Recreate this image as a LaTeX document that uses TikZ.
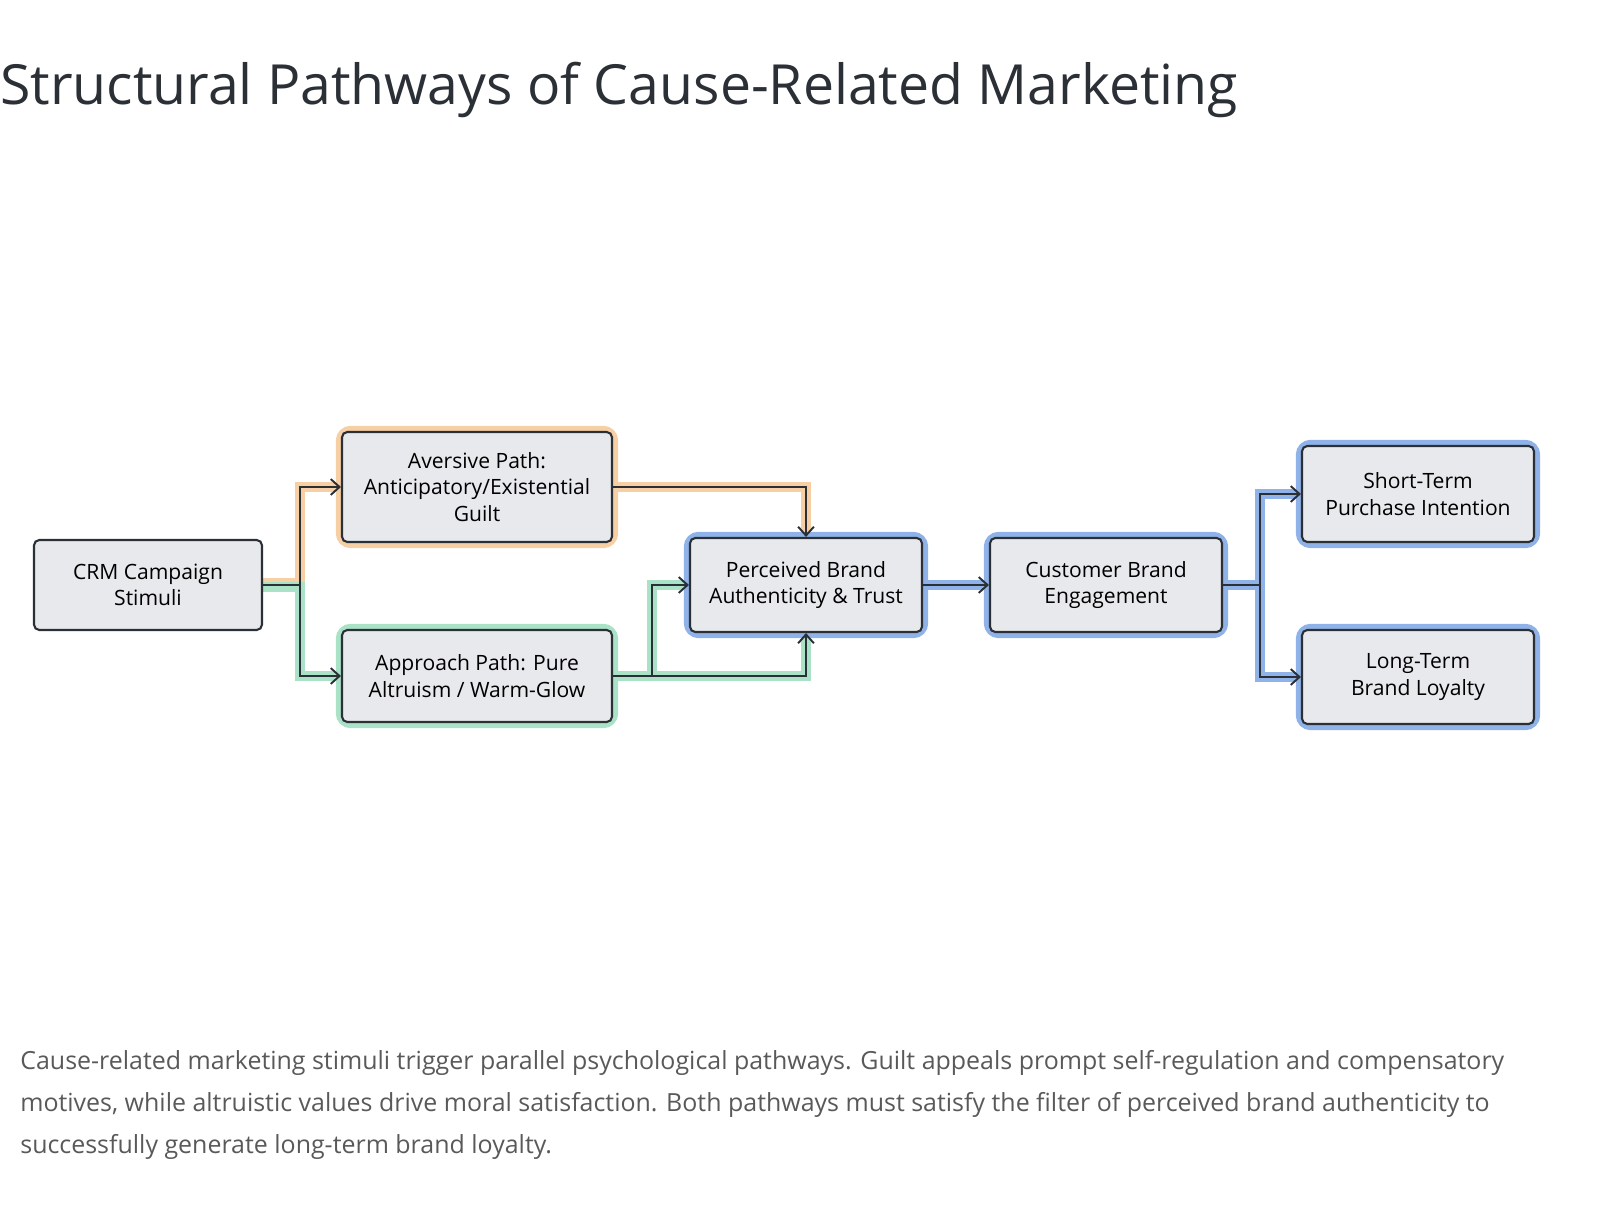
\documentclass[tikz,border=0pt]{standalone}
\usepackage{fontspec}
\setmainfont{Open Sans}
\usetikzlibrary{arrows.meta}
\definecolor{boxfill}{HTML}{E8E9EC}
\definecolor{ink}{HTML}{2B2F36}
\definecolor{glowor}{HTML}{F6CFA4}
\definecolor{glowgr}{HTML}{A9E2C6}
\definecolor{glowbl}{HTML}{8FB2E8}
\tikzset{
  box/.style={draw=ink, fill=boxfill, rounded corners=3pt, line width=1.2pt,
    align=center, font=\fontsize{12}{15}\selectfont, inner sep=0pt},
  glowbox/.style={draw=#1, fill=#1, line width=7pt, rounded corners=5pt},
  glowline/.style={draw=#1, line width=6pt},
  link/.style={draw=ink, line width=1.1pt, -{Straight Barb[length=5pt,width=9pt]}},
  plain/.style={draw=ink, line width=1.1pt}
}
\begin{document}
\begin{tikzpicture}[x=0.02cm, y=-0.02cm]
% title
\node[anchor=west, font=\fontsize{31.5}{36}\selectfont, text=ink, inner sep=0pt] (title) at (0,90) {Structural Pathways of Cause-Related Marketing};
% glows of the connectors
\draw[glowline=glowor] (262,583) -- (300,583) -- (300,487) -- (342,487);
\draw[glowline=glowor] (612,487) -- (806,487) -- (806,538);
\draw[glowline=glowgr] (262,587) -- (300,587) -- (300,676) -- (342,676);
\draw[glowline=glowgr] (612,676) -- (806,676) -- (806,632);
\draw[glowline=glowgr] (652,676) -- (652,585) -- (690,585);
\draw[glowline=glowbl] (922,585) -- (990,585);
\draw[glowline=glowbl] (1222,585) -- (1260,585) -- (1260,494) -- (1302,494);
\draw[glowline=glowbl] (1260,585) -- (1260,677) -- (1302,677);
% glows of the boxes
\draw[glowbox=glowor] (342,432) rectangle (612,542);
\draw[glowbox=glowgr] (342,630) rectangle (612,722);
\draw[glowbox=glowbl] (690,538) rectangle (922,632);
\draw[glowbox=glowbl] (990,538) rectangle (1222,632);
\draw[glowbox=glowbl] (1302,446) rectangle (1534,542);
\draw[glowbox=glowbl] (1302,630) rectangle (1534,724);
% boxes
\node[box, minimum width=4.56cm, minimum height=1.8cm] (crm) at (148,585) {CRM Campaign\\Stimuli};
\node[box, minimum width=5.4cm, minimum height=2.2cm] (aver) at (477,487) {Aversive Path:\\Anticipatory/Existential\\Guilt};
\node[box, minimum width=5.4cm, minimum height=1.84cm] (appr) at (477,676) {Approach Path: Pure\\Altruism / Warm-Glow};
\node[box, minimum width=4.64cm, minimum height=1.88cm] (auth) at (806,585) {Perceived Brand\\Authenticity \& Trust};
\node[box, minimum width=4.64cm, minimum height=1.88cm] (eng) at (1106,585) {Customer Brand\\Engagement};
\node[box, minimum width=4.64cm, minimum height=1.92cm] (short) at (1418,494) {Short-Term\\Purchase Intention};
\node[box, minimum width=4.64cm, minimum height=1.88cm] (long) at (1418,677) {Long-Term\\Brand Loyalty};
% connectors
\coordinate (split) at (300,585);
\coordinate (mid) at (652,676);
\coordinate (fork) at (1260,585);
\draw[plain] (crm.east) -- (split);
\draw[link] (split) |- (aver.west);
\draw[link] (split) |- (appr.west);
\draw[link] (aver.east) -| (auth.north);
\draw[link] (appr.east) -| (auth.south);
\draw[link] (mid) |- (auth.west);
\draw[link] (auth.east) -- (eng.west);
\draw[plain] (eng.east) -- (fork);
\draw[link] (fork) |- (short.west);
\draw[link] (fork) |- (long.west);
% caption
\node[anchor=north west, text width=30.8cm, align=flush left, text=black!65, inner sep=0pt,
  font=\fontsize{14.2}{24}\selectfont] (cap) at (20,1050) {Cause-related marketing stimuli trigger parallel psychological pathways. Guilt appeals prompt self-regulation and compensatory motives, while altruistic values drive moral satisfaction. Both pathways must satisfy the filter of perceived brand authenticity to successfully generate long-term brand loyalty.};
\pgfresetboundingbox
\useasboundingbox (0,0) rectangle (1600,1206);
\end{tikzpicture}
\end{document}
